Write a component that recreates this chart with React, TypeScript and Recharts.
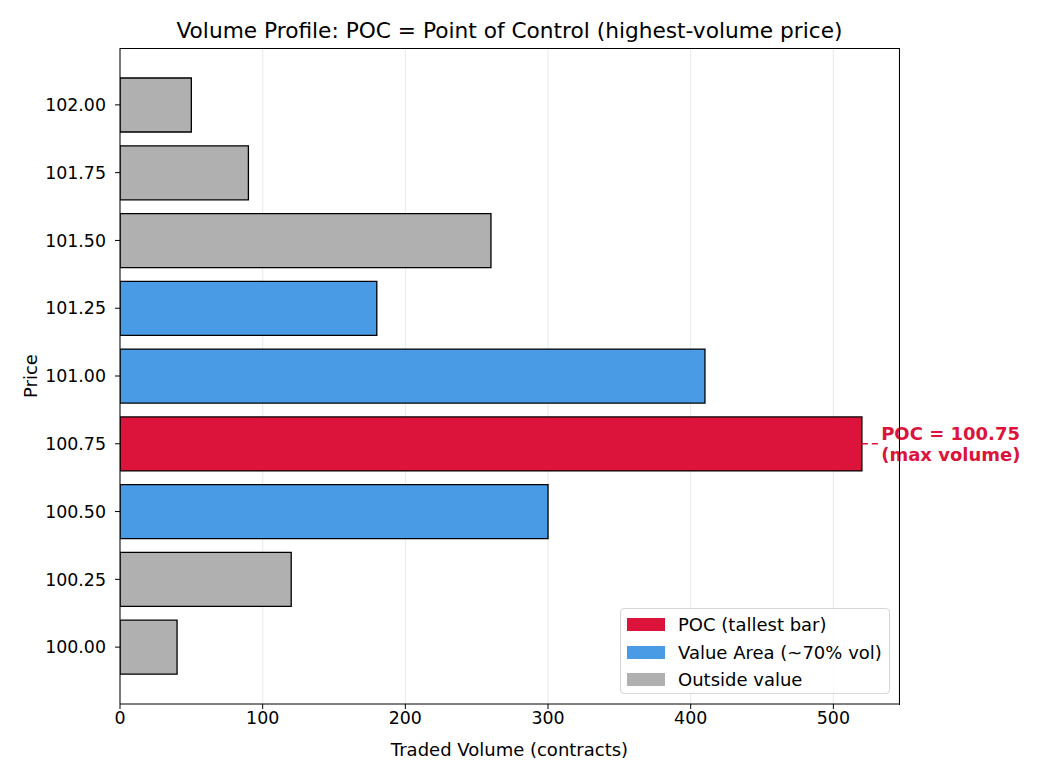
import React from 'react';
import {
  BarChart,
  Bar,
  XAxis,
  YAxis,
  CartesianGrid,
  Cell,
  ReferenceLine,
  ReferenceDot,
} from 'recharts';

// price levels, top to bottom
const prices = ['102.00', '101.75', '101.50', '101.25', '101.00', '100.75', '100.50', '100.25', '100.00'];
const volumes = [50, 90, 260, 180, 410, 520, 300, 120, 40];
const zones = ['out', 'out', 'out', 'va', 'va', 'poc', 'va', 'out', 'out'];
const xTicks = [0, 100, 200, 300, 400, 500];

const legendItems = [
  { key: 'poc', label: 'POC (tallest bar)', color: '#DC143C' },
  { key: 'va', label: 'Value Area (~70% vol)', color: '#4A9BE5' },
  { key: 'out', label: 'Outside value', color: '#B0B0B0' },
];

const zoneColor = (z: string) => legendItems.find((l) => l.key === z)?.color ?? '#B0B0B0';

const font = '"DejaVu Sans", Verdana, sans-serif';
const tickFs = 17.4;
const fs = 18;

const rows = prices.map((p, i) => ({ price: p, volume: volumes[i], zone: zones[i] }));

const pocIndex = volumes.indexOf(Math.max(...volumes));
const pocPrice = prices[pocIndex];
const pocVolume = volumes[pocIndex];

function PocText(props: any) {
  const { cx, cy } = props;
  return (
    <text x={cx} y={cy} fill="#DC143C" fontFamily={font} fontSize={fs} fontWeight="bold">
      <tspan x={cx} dy={-4}>{`POC = ${pocPrice}`}</tspan>
      <tspan x={cx} dy={21}>(max volume)</tspan>
    </text>
  );
}

function PriceLabel(props: any) {
  const { viewBox } = props;
  const cy = viewBox.y + viewBox.height / 2;
  return (
    <text
      x={30}
      y={cy}
      transform={`rotate(-90, 30, ${cy})`}
      textAnchor="middle"
      dominantBaseline="central"
      fontFamily={font}
      fontSize={fs}
      fill="#000"
    >
      Price
    </text>
  );
}

function VolumeLabel(props: any) {
  const { viewBox } = props;
  const cx = viewBox.x + viewBox.width / 2;
  return (
    <text x={cx} y={749} textAnchor="middle" dominantBaseline="central" fontFamily={font} fontSize={fs} fill="#000">
      Traded Volume (contracts)
    </text>
  );
}

export default function App() {
  return (
    <div style={{ position: 'absolute', left: 0, top: 0, width: 1040, height: 780, background: '#fff', fontFamily: font }}>
      <div
        style={{
          position: 'absolute',
          left: 0,
          width: 1019,
          top: 18,
          textAlign: 'center',
          fontSize: 21.7,
          lineHeight: '26px',
          color: '#000',
          whiteSpace: 'nowrap',
        }}
      >
        Volume Profile: POC = Point of Control (highest-volume price)
      </div>
      <BarChart
        width={1040}
        height={780}
        data={rows}
        layout="vertical"
        margin={{ top: 48, right: 141, bottom: 46, left: 40 }}
      >
        <CartesianGrid horizontal={false} stroke="#e8e8e8" strokeWidth={1} />
        <XAxis
          type="number"
          dataKey="volume"
          domain={[0, 546]}
          ticks={xTicks}
          allowDataOverflow
          height={30}
          tickSize={5}
          tickMargin={3}
          stroke="#000"
          tick={{ fill: '#000', fontSize: tickFs, fontFamily: font }}
          label={<VolumeLabel />}
        />
        <YAxis
          type="category"
          dataKey="price"
          width={80}
          padding={{ top: 23, bottom: 23 }}
          tickSize={5}
          tickMargin={9}
          stroke="#000"
          tick={{ fill: '#000', fontSize: tickFs, fontFamily: font }}
          label={<PriceLabel />}
        />
        <Bar dataKey="volume" barSize={54} stroke="#000" strokeWidth={1.3} isAnimationActive={false}>
          {rows.map((r) => (
            <Cell key={r.price} fill={zoneColor(r.zone)} />
          ))}
        </Bar>
        <ReferenceLine
          segment={[
            { x: pocVolume, y: pocPrice },
            { x: 532, y: pocPrice },
          ]}
          stroke="#DC143C"
          strokeWidth={1.6}
          strokeDasharray="6 4"
          ifOverflow="visible"
        />
        <ReferenceDot x={533.5} y={pocPrice} r={0} ifOverflow="visible" shape={<PocText />} />
      </BarChart>
      {/* top and right spines of the plot frame */}
      <div
        style={{
          position: 'absolute',
          left: 120,
          top: 48,
          width: 780,
          height: 657,
          borderTop: '1px solid #000',
          borderRight: '1px solid #000',
          boxSizing: 'border-box',
          pointerEvents: 'none',
        }}
      />
      <div
        style={{
          position: 'absolute',
          left: 620,
          top: 608,
          width: 270,
          height: 86,
          border: '1px solid #d6d6d6',
          borderRadius: 4,
          background: 'rgba(255,255,255,0.85)',
          boxSizing: 'border-box',
          paddingTop: 2,
        }}
      >
        {legendItems.map((l) => (
          <div key={l.key} style={{ display: 'flex', alignItems: 'center', height: 27.5 }}>
            <span style={{ display: 'inline-block', marginLeft: 6, width: 38, height: 13, background: l.color }} />
            <span style={{ marginLeft: 13, fontSize: fs, color: '#000', whiteSpace: 'nowrap' }}>{l.label}</span>
          </div>
        ))}
      </div>
    </div>
  );
}
